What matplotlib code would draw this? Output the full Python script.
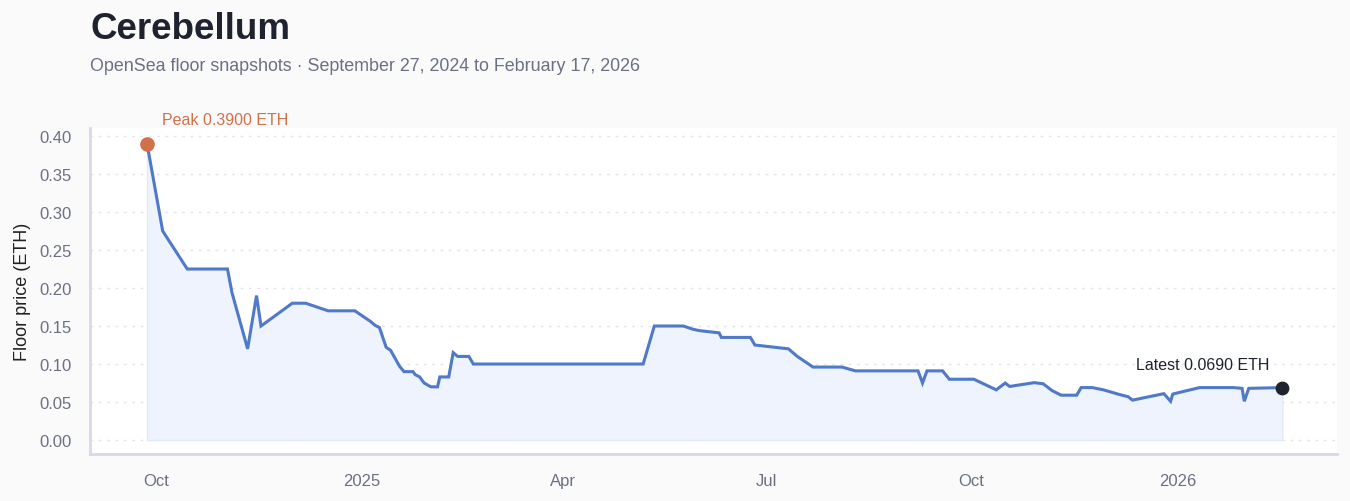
import matplotlib

matplotlib.use("Agg")
import matplotlib.dates as mdates
import matplotlib.pyplot as plt
import pandas as pd

plt.rcParams["font.family"] = ["Liberation Sans", "DejaVu Sans"]

# Floor snapshots
dates = [
    "2024-09-27", "2024-10-04", "2024-10-15", "2024-11-02", "2024-11-04",
    "2024-11-11", "2024-11-15", "2024-11-17", "2024-12-01", "2024-12-07",
    "2024-12-17", "2024-12-29", "2024-12-31", "2025-01-03", "2025-01-05",
    "2025-01-07", "2025-01-09", "2025-01-12", "2025-01-14", "2025-01-18",
    "2025-01-20", "2025-01-24", "2025-01-25", "2025-01-27", "2025-01-29",
    "2025-02-01", "2025-02-04", "2025-02-05", "2025-02-09", "2025-02-11",
    "2025-02-13", "2025-02-18", "2025-02-20", "2025-05-07", "2025-05-12",
    "2025-05-25", "2025-05-29", "2025-06-01", "2025-06-10", "2025-06-11",
    "2025-06-24", "2025-06-26", "2025-07-11", "2025-07-15", "2025-07-22",
    "2025-08-04", "2025-08-10", "2025-09-07", "2025-09-09", "2025-09-11",
    "2025-09-18", "2025-09-21", "2025-10-02", "2025-10-12", "2025-10-16",
    "2025-10-18", "2025-10-29", "2025-11-02", "2025-11-06", "2025-11-10",
    "2025-11-17", "2025-11-19", "2025-11-24", "2025-11-29", "2025-12-06",
    "2025-12-10", "2025-12-12", "2025-12-26", "2025-12-29", "2025-12-30",
    "2026-01-11", "2026-01-26", "2026-01-30", "2026-01-31", "2026-02-02",
    "2026-02-17",
]
floor_eth = [
    0.390, 0.275, 0.225, 0.225, 0.194,
    0.120, 0.190, 0.150, 0.180, 0.180,
    0.170, 0.170, 0.166, 0.160, 0.156,
    0.151, 0.148, 0.122, 0.118, 0.097,
    0.090, 0.090, 0.086, 0.083, 0.075,
    0.070, 0.070, 0.083, 0.083, 0.115,
    0.110, 0.110, 0.100, 0.100, 0.150,
    0.150, 0.146, 0.144, 0.141, 0.135,
    0.135, 0.125, 0.120, 0.110, 0.096,
    0.096, 0.091, 0.091, 0.075, 0.091,
    0.091, 0.080, 0.080, 0.066, 0.075,
    0.0705, 0.0755, 0.074, 0.065, 0.059,
    0.059, 0.069, 0.069, 0.066, 0.060,
    0.057, 0.0525, 0.061, 0.051, 0.0605,
    0.069, 0.069, 0.068, 0.051, 0.068,
    0.069,
]
y_ticks = [0.00, 0.05, 0.10, 0.15, 0.20, 0.25, 0.30, 0.35, 0.40]

df = pd.DataFrame({"date": pd.to_datetime(dates), "floor": floor_eth})

LINE = "#4f79c9"
PEAK = "#d0714a"
DARK = "#1f2330"
MUTED = "#6b7085"
SPINE = "#d6d9e8"

fig = plt.figure(figsize=(13.5, 5.02), dpi=100, facecolor="#fafafa")
ax = fig.add_axes([0.0667, 0.0936, 0.9237, 0.6494])
ax.set_facecolor("white")

ax.fill_between(df["date"], df["floor"], 0, color="#eef3fd", edgecolor="#e2e9f8",
                linewidth=1, zorder=1)
ax.plot(df["date"], df["floor"], color=LINE, linewidth=2.2, zorder=3,
        solid_joinstyle="miter")

# Peak and latest markers
peak = df.loc[df["floor"].idxmax()]
last = df.iloc[-1]
ax.scatter([peak["date"]], [peak["floor"]], s=90, color=PEAK, zorder=4)
ax.scatter([last["date"]], [last["floor"]], s=80, color=DARK, zorder=4)
ax.annotate(f"Peak {peak['floor']:.4f} ETH", (peak["date"], peak["floor"]),
            xytext=(11, 12), textcoords="offset points", color=PEAK,
            fontsize=11.5, va="bottom", ha="left")
ax.annotate(f"Latest {last['floor']:.4f} ETH", (last["date"], last["floor"]),
            xytext=(-9, 11), textcoords="offset points", color=DARK,
            fontsize=11.5, va="bottom", ha="right")

ax.set_xlim(pd.Timestamp("2024-09-01 12:00"), pd.Timestamp("2026-03-13 12:00"))
ax.set_ylim(-0.0184, 0.4105)
ax.set_yticks(y_ticks)
ax.yaxis.set_major_formatter(matplotlib.ticker.FormatStrFormatter("%.2f"))

ax.xaxis.set_major_locator(mdates.MonthLocator(bymonth=[1, 4, 7, 10]))
ax.xaxis.set_major_formatter(mdates.ConciseDateFormatter(
    ax.xaxis.get_major_locator(),
    formats=["%Y", "%b", "%d", "%H:%M", "%H:%M", "%S.%f"],
    offset_formats=["", "", "", "", "", ""]))

ax.grid(axis="y", color="#e3e5ee", linestyle=(0, (2, 4)), linewidth=1)
ax.set_axisbelow(True)
for side in ["top", "right"]:
    ax.spines[side].set_visible(False)
for side in ["left", "bottom"]:
    ax.spines[side].set_color(SPINE)
    ax.spines[side].set_linewidth(2)

ax.tick_params(axis="both", length=0, labelsize=12, labelcolor=MUTED)
ax.tick_params(axis="x", pad=14)
ax.tick_params(axis="y", pad=13)
ax.set_ylabel("Floor price (ETH)", fontsize=13, color="#222222", labelpad=6)

fig.text(0.0667, 0.942, "Cerebellum", fontsize=26.5, fontweight="bold",
         color=DARK, va="center", ha="left")
fig.text(0.0667, 0.868,
         "OpenSea floor snapshots \u00b7 September 27, 2024 to February 17, 2026",
         fontsize=12.9, color=MUTED, va="center", ha="left")

fig.savefig("out.png", dpi=100, facecolor=fig.get_facecolor())
